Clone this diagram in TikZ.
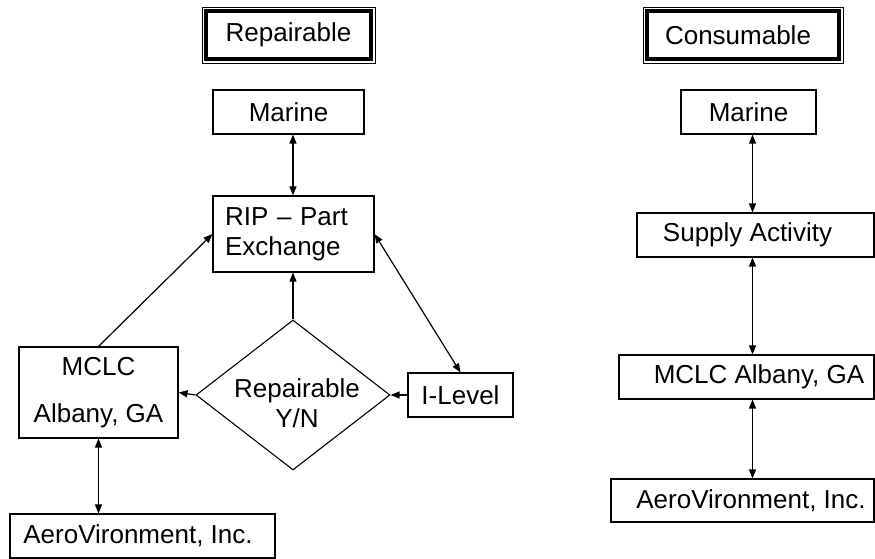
\documentclass[tikz,border=0pt]{standalone}
\usepackage{fontspec}
\setmainfont{Liberation Sans}
\usetikzlibrary{arrows.meta,shapes.geometric}
\begin{document}
\begin{tikzpicture}[x=1pt,y=-1pt,
  every node/.style={font=\fontsize{26}{30}\selectfont},
  box/.style={draw,line width=1.1pt,rectangle,inner sep=0pt,minimum height=44pt},
  title/.style={draw,line width=0.9pt,rectangle,inner sep=0pt,minimum height=56pt},
  dia/.style={draw,line width=1.1pt,diamond,inner sep=0pt,minimum width=194pt,minimum height=150pt},
  conn/.style={line width=1.2pt,-{Triangle[length=9pt,width=7pt]}},
  dconn/.style={line width=1.2pt,{Triangle[length=9pt,width=7pt]}-{Triangle[length=9pt,width=7pt]}}
]
\useasboundingbox (0,0) rectangle (875,559);

% ---- Left column: Repairable ----
\node[title,minimum width=173pt] (repT) at (288.5,35) {Repairable};
\draw[line width=3.5pt] ([shift={(4.5,4.5)}]repT.north west) rectangle ([shift={(-4.5,-4.5)}]repT.south east);

\node[box,minimum width=151pt] (marA) at (288.5,112) {Marine};
\node[box,minimum height=76pt,minimum width=161pt,inner xsep=12pt,text width=137pt,align=left] (rip) at (293.5,234) {RIP -- Part\\Exchange};
\node[dia] (dia) at (293,395) {};
\node[align=center,inner sep=0pt] (diaT) at (297,403) {Repairable\\Y/N};
\node[box,minimum width=105pt] (ilev) at (460.5,395) {I-Level};
\node[box,minimum width=159pt,minimum height=91pt,align=center] (mclc) at (98.5,392.5) {MCLC\\[17pt]Albany, GA};
\node[box,minimum width=265pt] (aeroA) at (142.5,536) {AeroVironment, Inc.\hspace*{9pt}};

\coordinate (xa) at (293,0);
\draw[dconn] (marA.south -| xa) -- (rip.north -| xa);
\draw[conn] (dia.north) -- (rip.south -| dia.north);
\draw[conn] (mclc.north) -- (rip.west);
\draw[dconn] (rip.east) -- (ilev.north);
\draw[conn] (ilev.west) -- (dia.east);
\draw[conn] (dia.west) -- (mclc.east);
\draw[dconn] (mclc.south) -- (mclc.south |- aeroA.north);

% ---- Right column: Consumable ----
\node[title,minimum width=200pt] (conT) at (743,35) {Consumable\hspace*{10pt}};
\draw[line width=3.5pt] ([shift={(4.5,4.5)}]conT.north west) rectangle ([shift={(-4.5,-4.5)}]conT.south east);

\node[box,minimum width=135pt] (marB) at (748.5,112) {Marine};
\node[box,minimum width=237pt] (sup) at (755.5,235) {Supply Activity\hspace*{16pt}};
\node[box,minimum width=255pt] (mclcB) at (746.5,377) {\hspace*{25pt}MCLC Albany, GA};
\node[box,minimum width=263pt,minimum height=43pt] (aeroB) at (742.5,500.5) {\hspace*{17pt}AeroVironment, Inc.};

\coordinate (xb) at (752.5,0);
\draw[dconn] (marB.south -| xb) -- (sup.north -| xb);
\draw[dconn] (sup.south -| xb) -- (mclcB.north -| xb);
\draw[dconn] (mclcB.south -| xb) -- (aeroB.north -| xb);
\end{tikzpicture}
\end{document}
